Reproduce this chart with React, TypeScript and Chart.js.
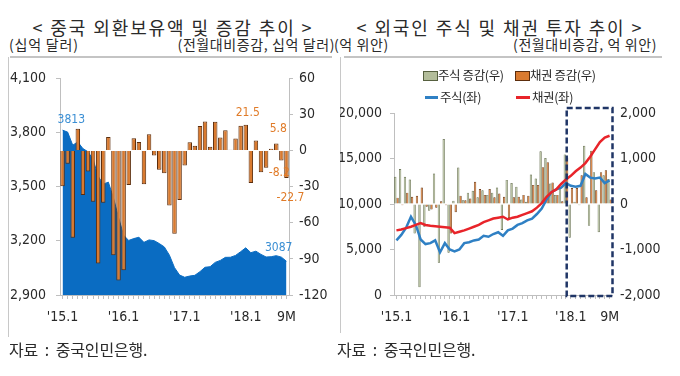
import React, { useEffect, useRef } from 'react';
import { Chart, registerables } from 'chart.js';

Chart.register(...registerables);

// ---------- shared categories ----------
const MONTHS = [
  '2015.1', '2015.2', '2015.3', '2015.4', '2015.5', '2015.6', '2015.7', '2015.8', '2015.9', '2015.10', '2015.11', '2015.12',
  '2016.1', '2016.2', '2016.3', '2016.4', '2016.5', '2016.6', '2016.7', '2016.8', '2016.9', '2016.10', '2016.11', '2016.12',
  '2017.1', '2017.2', '2017.3', '2017.4', '2017.5', '2017.6', '2017.7', '2017.8', '2017.9', '2017.10', '2017.11', '2017.12',
  '2018.1', '2018.2', '2018.3', '2018.4', '2018.5', '2018.6', '2018.7', '2018.8', '2018.9',
];
const TICK_MONTHS = ['2015.1', '2016.1', '2017.1', '2018.1', '2018.9'];
const TICK_TEXT = ["'15.1", "'16.1", "'17.1", "'18.1", '9M'];

// ---------- left chart: China FX reserves (billion USD) ----------
const RESERVES = [
  3813.4, 3802.4, 3730.0, 3748.1, 3711.1, 3693.8, 3651.3, 3557.4, 3514.1, 3525.3, 3438.3, 3330.4,
  3230.9, 3202.3, 3212.6, 3219.7, 3191.7, 3205.2, 3201.1, 3185.2, 3166.4, 3120.7, 3051.6, 3010.5,
  2998.2, 3005.1, 3009.1, 3029.5, 3053.6, 3056.8, 3080.7, 3091.5, 3108.5, 3109.2, 3119.3, 3139.9,
  3161.5, 3134.5, 3142.8, 3124.9, 3110.6, 3112.1, 3117.9, 3109.7, 3087.0,
];
const RESERVE_CHANGE = [
  -29.6, -11.0, -72.4, 18.1, -37.0, -17.3, -42.5, -93.9, -43.3, 11.2, -87.0, -107.9,
  -99.5, -28.6, 10.3, 7.1, -28.0, 13.5, -4.1, -15.9, -18.8, -45.7, -69.1, -41.1,
  -12.3, 6.9, 4.0, 20.4, 24.1, 3.2, 23.9, 10.8, 17.0, 0.7, 10.1, 20.6,
  21.5, -27.0, 8.3, -17.9, -14.3, 1.5, 5.8, -8.2, -22.7,
];
const RES_LEFT_TICKS = [2900, 3200, 3500, 3800, 4100];
const RES_RIGHT_TICKS = [-120, -90, -60, -30, 0, 30, 60];
const RES_CHANGE_LABELS = [
  { month: '2018.1', text: '21.5' },
  { month: '2018.7', text: '5.8' },
  { month: '2018.8', text: '-8.2' },
  { month: '2018.9', text: '-22.7' },
];

// ---------- right chart: foreign holdings of stocks & bonds (100m CNY) ----------
const STOCK_HOLD = [
  6000, 6600, 7400, 8600, 7700, 6100, 5600, 5700, 6000, 4700, 5700, 5000,
  4800, 5000, 5700, 5800, 6000, 6100, 6500, 6400, 6700, 6900, 6500, 7100,
  7300, 7700, 7900, 8200, 8400, 8900, 9500, 10500, 11300, 11600, 11800, 12300,
  12000, 11900, 12000, 13300, 12900, 12800, 12900, 12300, 12600,
];
const BOND_HOLD = [
  7100, 7200, 7350, 7500, 7700, 7900, 7700, 7600, 7550, 7500, 7450, 7400,
  6800, 6950, 7100, 7300, 7500, 7700, 8000, 8200, 8400, 8500, 8600, 8300,
  8500, 8600, 8800, 9000, 9200, 9600, 10100, 10800, 11300, 11600, 12200, 12700,
  13100, 13600, 14000, 14500, 15200, 16000, 16800, 17300, 17500,
];
const STOCK_CHANGE = [
  600, 770, 600, 540, -650, -1830, -500, -150, 670, -1290, 1430, -1070,
  70, 800, 80, 250, 290, 150, 300, 200, 250, 360, -570, 530,
  460, 380, 100, 50, 650, 560, 1160, 1010, 450, 200, 350, 1090,
  -740, 50, -30, 1280, -480, 700, -620, 630, 550,
];
const BOND_CHANGE = [
  140, -30, 250, 160, 180, 360, -60, -120, -80, 60, -30, -650,
  -180, 180, 80, 120, 490, 330, 200, 330, 150, 230, 160, -310,
  150, 160, 200, 180, 420, 420, 810, 920, 470, 200, 60, 1020,
  350, 350, 630, 150, 1170, 300, 700, 740, 100,
];
const FLOW_LEFT_TICKS = [0, 5000, 10000, 15000, 20000];
const FLOW_RIGHT_TICKS = [-2000, -1000, 0, 1000, 2000];
const HIGHLIGHT_FROM = '2018.1';

// ---------- styles ----------
const KR = '"Noto Sans CJK KR", "Noto Sans", sans-serif';
const NARROW = '"Liberation Sans Narrow", "DejaVu Sans Condensed", "Liberation Sans", sans-serif';
const TXT = '#2a2a2a';
const AXIS = '#bfbfbf';
const AREA_BLUE = '#0a6cc2';
const ORANGE = '#d97a2f';
const ORANGE_EDGE = '#5c2d0c';
const SAGE = '#b3bd9a';
const SAGE_EDGE = '#56603f';
const LINE_BLUE = '#2f80c4';
const LINE_RED = '#e8242a';

const tickFont = { family: NARROW, size: 14 };

function xTickCallback(_v: any, idx: number) {
  const k = TICK_MONTHS.indexOf(MONTHS[idx]);
  return k >= 0 ? TICK_TEXT[k] : '';
}

function fixedTicks(values: number[]) {
  return (scale: any) => {
    scale.ticks = values.map((v) => ({ value: v }));
  };
}

const fmt = (v: any) => Number(v).toLocaleString('en-US');

// ---------- left chart labels plugin ----------
const reserveLabels = {
  id: 'reserveLabels',
  afterDatasetsDraw(chart: any) {
    const { ctx } = chart;
    const x = chart.scales.x;
    const y = chart.scales.y;
    const y1 = chart.scales.y1;
    ctx.save();
    ctx.font = `12px ${NARROW}`;
    const last = RESERVES.length - 1;
    ctx.fillStyle = '#3b8fd4';
    ctx.textBaseline = 'bottom';
    ctx.textAlign = 'left';
    ctx.fillText(String(Math.round(RESERVES[0])), x.getPixelForValue(0) - 5, y.getPixelForValue(RESERVES[0]) - 4);
    ctx.textAlign = 'right';
    ctx.fillText(String(Math.round(RESERVES[last])), x.getPixelForValue(last) + 6, y.getPixelForValue(RESERVES[last]) - 7);
    ctx.fillStyle = '#e07b28';
    ctx.textAlign = 'center';
    RES_CHANGE_LABELS.forEach((l) => {
      const i = MONTHS.indexOf(l.month);
      const v = RESERVE_CHANGE[i];
      const px = x.getPixelForValue(i);
      const py = y1.getPixelForValue(v);
      if (v >= 0) {
        ctx.textBaseline = 'bottom';
        ctx.fillText(l.text, px + 2, py - (i === MONTHS.length - 3 ? 9 : 6));
      } else {
        ctx.textBaseline = 'top';
        const last2 = i === MONTHS.length - 1;
        ctx.fillText(l.text, px + (last2 ? 4 : -2), py + (last2 ? 14 : 6));
      }
    });
    ctx.restore();
  },
};

// ---------- right chart highlight plugin ----------
const highlightBox = {
  id: 'highlightBox',
  afterDatasetsDraw(chart: any) {
    const { ctx, chartArea } = chart;
    const x = chart.scales.x;
    const i = MONTHS.indexOf(HIGHLIGHT_FROM);
    const step = x.getPixelForValue(1) - x.getPixelForValue(0);
    const left = x.getPixelForValue(i) - step * 0.85;
    const right = chartArea.right + 0.5;
    const top = chartArea.top - 5;
    const bottom = chartArea.bottom + 1;
    ctx.save();
    ctx.strokeStyle = '#1f3566';
    ctx.lineWidth = 2.5;
    ctx.setLineDash([6, 3]);
    ctx.strokeRect(left, top, right - left, bottom - top);
    ctx.restore();
  },
};

function ReserveChart() {
  const ref = useRef<HTMLCanvasElement>(null);
  useEffect(() => {
    const chart = new Chart(ref.current as HTMLCanvasElement, {
      type: 'bar',
      data: {
        labels: MONTHS,
        datasets: [
          {
            type: 'bar',
            data: RESERVE_CHANGE,
            yAxisID: 'y1',
            backgroundColor: ORANGE,
            borderColor: ORANGE_EDGE,
            borderWidth: 1,
            barPercentage: 0.88,
            categoryPercentage: 1,
            order: 0,
          } as any,
          {
            type: 'line',
            data: RESERVES,
            yAxisID: 'y',
            borderColor: AREA_BLUE,
            backgroundColor: AREA_BLUE,
            borderWidth: 1,
            pointRadius: 0,
            fill: 'start',
            tension: 0,
            order: 1,
          } as any,
        ],
      },
      options: {
        responsive: false,
        animation: false,
        layout: { padding: { top: 15, left: 0, right: 0, bottom: 0 } },
        plugins: { legend: { display: false }, tooltip: { enabled: false } },
        scales: {
          x: {
            grid: { display: true, drawOnChartArea: false, drawTicks: true, tickLength: 4, color: AXIS, offset: false },
            border: { color: AXIS },
            ticks: { autoSkip: false, maxRotation: 0, minRotation: 0, padding: 10, font: tickFont, color: TXT, callback: xTickCallback },
            afterFit: (s: any) => { s.height = 45; },
          },
          y: {
            position: 'left',
            min: 2900,
            max: 4100,
            afterBuildTicks: fixedTicks(RES_LEFT_TICKS),
            grid: { drawOnChartArea: false, drawTicks: true, tickLength: 4, color: AXIS },
            border: { color: AXIS },
            ticks: { padding: 10, font: tickFont, color: TXT, callback: fmt },
            afterFit: (s: any) => { s.width = 60; },
          },
          y1: {
            position: 'right',
            min: -120,
            max: 60,
            afterBuildTicks: fixedTicks(RES_RIGHT_TICKS),
            grid: { drawOnChartArea: false, drawTicks: true, tickLength: 4, color: AXIS },
            border: { color: AXIS },
            ticks: { padding: 6, font: tickFont, color: TXT, callback: fmt },
            afterFit: (s: any) => { s.width = 51; },
          },
        },
      } as any,
      plugins: [reserveLabels],
    });
    return () => chart.destroy();
  }, []);
  return <canvas ref={ref} width={340} height={280} style={{ position: 'absolute', left: 0, top: 60 }} />;
}

function FlowChart() {
  const ref = useRef<HTMLCanvasElement>(null);
  useEffect(() => {
    const chart = new Chart(ref.current as HTMLCanvasElement, {
      type: 'bar',
      data: {
        labels: MONTHS,
        datasets: [
          {
            type: 'bar', label: '주식 증감(우)', data: STOCK_CHANGE, yAxisID: 'y1',
            backgroundColor: SAGE, borderColor: SAGE_EDGE, borderWidth: 0.7,
            barPercentage: 1, categoryPercentage: 0.95, order: 2,
          } as any,
          {
            type: 'bar', label: '채권 증감(우)', data: BOND_CHANGE, yAxisID: 'y1',
            backgroundColor: ORANGE, borderColor: ORANGE_EDGE, borderWidth: 0.7,
            barPercentage: 1, categoryPercentage: 0.95, order: 3,
          } as any,
          {
            type: 'line', label: '주식(좌)', data: STOCK_HOLD, yAxisID: 'y',
            borderColor: LINE_BLUE, borderWidth: 2.5, pointRadius: 0, tension: 0, fill: false, order: 1,
          } as any,
          {
            type: 'line', label: '채권(좌)', data: BOND_HOLD, yAxisID: 'y',
            borderColor: LINE_RED, borderWidth: 2.5, pointRadius: 0, tension: 0, fill: false, order: 0,
          } as any,
        ],
      },
      options: {
        responsive: false,
        animation: false,
        layout: { padding: { top: 53, left: 0, right: 0, bottom: 0 } },
        plugins: { legend: { display: false }, tooltip: { enabled: false } },
        scales: {
          x: {
            grid: { display: true, drawOnChartArea: false, drawTicks: true, tickLength: 4, color: AXIS, offset: false },
            border: { color: AXIS },
            ticks: { autoSkip: false, maxRotation: 0, minRotation: 0, padding: 10, font: tickFont, color: TXT, callback: xTickCallback },
            afterFit: (s: any) => { s.height = 45; },
          },
          y: {
            position: 'left',
            min: 0,
            max: 20000,
            afterBuildTicks: fixedTicks(FLOW_LEFT_TICKS),
            grid: { drawOnChartArea: false, drawTicks: true, tickLength: 4, color: AXIS },
            border: { color: AXIS },
            ticks: { padding: 8, font: tickFont, color: TXT, callback: fmt },
            afterFit: (s: any) => { s.width = 54; },
          },
          y1: {
            position: 'right',
            min: -2000,
            max: 2000,
            afterBuildTicks: fixedTicks(FLOW_RIGHT_TICKS),
            grid: { drawOnChartArea: false, drawTicks: false, color: AXIS },
            border: { display: false },
            ticks: { padding: 8, font: tickFont, color: TXT, callback: fmt },
            afterFit: (s: any) => { s.width = 68; },
          },
        },
      } as any,
      plugins: [highlightBox],
    });
    return () => chart.destroy();
  }, []);
  return <canvas ref={ref} width={340} height={280} style={{ position: 'absolute', left: 340, top: 60 }} />;
}

type TProps = { x: number; y: number; size: number; align?: 'left' | 'center' | 'right'; ls?: number; children: React.ReactNode; color?: string };
function T({ x, y, size, align = 'left', ls = 0, children, color = TXT }: TProps) {
  const base: React.CSSProperties = {
    position: 'absolute',
    top: y - size / 2,
    fontSize: size,
    lineHeight: `${size}px`,
    whiteSpace: 'pre',
    letterSpacing: ls,
    color,
    fontFamily: KR,
  };
  if (align === 'center') return <div style={{ ...base, left: x - 250, width: 500, textAlign: 'center' }}>{children}</div>;
  if (align === 'right') return <div style={{ ...base, right: 680 - x, textAlign: 'right' }}>{children}</div>;
  return <div style={{ ...base, left: x }}>{children}</div>;
}

function Rule({ x, y, w, h, c = '#c4c4c4' }: { x: number; y: number; w: number; h: number; c?: string }) {
  return <div style={{ position: 'absolute', left: x, top: y, width: w, height: h, background: c }} />;
}

export default function App() {
  return (
    <div style={{ position: 'absolute', left: 0, top: 0, width: 680, height: 376, background: '#fff', overflow: 'hidden' }}>
      {/* titles */}
      <T x={173} y={27} size={18} align="center" ls={1.9}>{'< 중국 외환보유액 및 증감 추이 >'}</T>
      <T x={500} y={27} size={18} align="center" ls={1.9}>{'< 외국인 주식 및 채권 투자 추이 >'}</T>
      <T x={9} y={44} size={14} ls={0.8}>(십억 달러)</T>
      <T x={335} y={44} size={14} align="right" ls={0.6}>(전월대비증감, 십억 달러)</T>
      <T x={334} y={44} size={14} ls={0.6}>(억 위안)</T>
      <T x={657} y={44} size={14} align="right" ls={0.6}>(전월대비증감, 억 위안)</T>

      {/* frames */}
      <Rule x={10} y={56} w={322} h={2} />
      <Rule x={8} y={57} w={1} h={280} c="#c8c8c8" />
      <Rule x={344} y={56} w={318} h={2} />
      <Rule x={340} y={57} w={1} h={276} c="#c8c8c8" />

      <ReserveChart />
      <FlowChart />

      {/* legend of right chart */}
      <div style={{ position: 'absolute', left: 423, top: 71, width: 13, height: 8, background: SAGE, border: `1px solid ${SAGE_EDGE}` }} />
      <T x={438} y={75} size={12.5} ls={-0.4}>주식 증감(우)</T>
      <div style={{ position: 'absolute', left: 515, top: 71, width: 13, height: 8, background: ORANGE, border: `1px solid ${ORANGE_EDGE}` }} />
      <T x={530} y={75} size={12.5} ls={-0.4}>채권 증감(우)</T>
      <div style={{ position: 'absolute', left: 425, top: 96, width: 13, height: 3, background: LINE_BLUE }} />
      <T x={440} y={97} size={12.5} ls={-0.4}>주식(좌)</T>
      <div style={{ position: 'absolute', left: 516, top: 96, width: 14, height: 3, background: LINE_RED }} />
      <T x={532} y={97} size={12.5} ls={-0.4}>채권(좌)</T>

      {/* sources */}
      <T x={9} y={349} size={16} ls={-0.2}>{'자료  :  중국인민은행.'}</T>
      <T x={337} y={349} size={16} ls={-0.2}>{'자료  :  중국인민은행.'}</T>
    </div>
  );
}
